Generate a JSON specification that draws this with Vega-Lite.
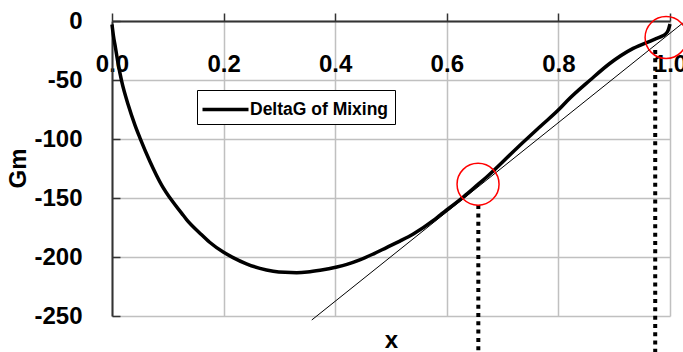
{
  "$schema": "https://vega.github.io/schema/vega-lite/v6.json",
  "width": 558,
  "height": 295,
  "autosize": {"type": "none"},
  "padding": {"left": 112, "top": 21, "right": 13, "bottom": 36},
  "background": "white",
  "config": {
    "view": {"stroke": null},
    "font": "Liberation Sans"
  },
  "layer": [
    {
      "data": {"values": [
        {"x": 0.000, "g": -3, "series": "DeltaG of Mixing"},
        {"x": 0.0024, "g": -12, "series": "DeltaG of Mixing"},
        {"x": 0.006, "g": -22, "series": "DeltaG of Mixing"},
        {"x": 0.0113, "g": -37, "series": "DeltaG of Mixing"},
        {"x": 0.0173, "g": -51, "series": "DeltaG of Mixing"},
        {"x": 0.029, "g": -71, "series": "DeltaG of Mixing"},
        {"x": 0.041, "g": -88, "series": "DeltaG of Mixing"},
        {"x": 0.050, "g": -99, "series": "DeltaG of Mixing"},
        {"x": 0.068, "g": -119, "series": "DeltaG of Mixing"},
        {"x": 0.089, "g": -139, "series": "DeltaG of Mixing"},
        {"x": 0.107, "g": -152, "series": "DeltaG of Mixing"},
        {"x": 0.125, "g": -163, "series": "DeltaG of Mixing"},
        {"x": 0.134, "g": -168.5, "series": "DeltaG of Mixing"},
        {"x": 0.158, "g": -180, "series": "DeltaG of Mixing"},
        {"x": 0.175, "g": -187.5, "series": "DeltaG of Mixing"},
        {"x": 0.2, "g": -196, "series": "DeltaG of Mixing"},
        {"x": 0.217, "g": -200.5, "series": "DeltaG of Mixing"},
        {"x": 0.241, "g": -205.8, "series": "DeltaG of Mixing"},
        {"x": 0.265, "g": -209.6, "series": "DeltaG of Mixing"},
        {"x": 0.289, "g": -212, "series": "DeltaG of Mixing"},
        {"x": 0.310, "g": -213, "series": "DeltaG of Mixing"},
        {"x": 0.331, "g": -213.3, "series": "DeltaG of Mixing"},
        {"x": 0.350, "g": -212.8, "series": "DeltaG of Mixing"},
        {"x": 0.373, "g": -211.3, "series": "DeltaG of Mixing"},
        {"x": 0.403, "g": -208.5, "series": "DeltaG of Mixing"},
        {"x": 0.421, "g": -206.3, "series": "DeltaG of Mixing"},
        {"x": 0.444, "g": -202.5, "series": "DeltaG of Mixing"},
        {"x": 0.468, "g": -197.5, "series": "DeltaG of Mixing"},
        {"x": 0.492, "g": -192, "series": "DeltaG of Mixing"},
        {"x": 0.516, "g": -186.5, "series": "DeltaG of Mixing"},
        {"x": 0.540, "g": -180.5, "series": "DeltaG of Mixing"},
        {"x": 0.576, "g": -169, "series": "DeltaG of Mixing"},
        {"x": 0.588, "g": -164.5, "series": "DeltaG of Mixing"},
        {"x": 0.630, "g": -149, "series": "DeltaG of Mixing"},
        {"x": 0.656, "g": -138.5, "series": "DeltaG of Mixing"},
        {"x": 0.672, "g": -132, "series": "DeltaG of Mixing"},
        {"x": 0.725, "g": -108, "series": "DeltaG of Mixing"},
        {"x": 0.767, "g": -89.6, "series": "DeltaG of Mixing"},
        {"x": 0.803, "g": -74, "series": "DeltaG of Mixing"},
        {"x": 0.815, "g": -68, "series": "DeltaG of Mixing"},
        {"x": 0.857, "g": -50, "series": "DeltaG of Mixing"},
        {"x": 0.892, "g": -36, "series": "DeltaG of Mixing"},
        {"x": 0.934, "g": -23.2, "series": "DeltaG of Mixing"},
        {"x": 0.970, "g": -16, "series": "DeltaG of Mixing"},
        {"x": 0.985, "g": -13, "series": "DeltaG of Mixing"},
        {"x": 0.991, "g": -11.5, "series": "DeltaG of Mixing"},
        {"x": 0.997, "g": -7.5, "series": "DeltaG of Mixing"},
        {"x": 1.0, "g": -2.5, "series": "DeltaG of Mixing"}
      ]},
      "mark": {"type": "line", "strokeWidth": 3.5, "interpolate": "monotone"},
      "encoding": {
        "x": {
          "field": "x", "type": "quantitative",
          "scale": {"domain": [0, 1], "nice": false, "zero": false},
          "axis": {
            "orient": "bottom", "offset": -295,
            "values": [0, 0.2, 0.4, 0.6, 0.8, 1.0], "format": ".1f",
            "labelFont": "Liberation Sans", "labelFontSize": 24, "labelFontWeight": "bold", "labelColor": "black",
            "labelBaseline": "middle", "labelPadding": 51, "labelFlush": false, "labelOverlap": false, "labelBound": false,
            "ticks": true, "tickSize": -8, "tickColor": "#333333", "tickWidth": 1.5,
            "domainColor": "#333333", "domainWidth": 2,
            "grid": true, "gridColor": "#c0c0c0", "gridWidth": 1.5,
            "title": "x", "titleFont": "Liberation Sans", "titleFontSize": 24, "titleFontWeight": "bold", "titleColor": "black",
            "titleBaseline": "alphabetic", "titleY": 326, "titleX": 279, "titleAlign": "center"
          }
        },
        "y": {
          "field": "g", "type": "quantitative",
          "scale": {"domain": [-250, 0], "nice": false, "zero": false},
          "axis": {
            "values": [-250, -200, -150, -100, -50, 0],
            "labelExpr": "datum.value < 0 ? '-' + abs(datum.value) : '' + datum.value",
            "labelFont": "Liberation Sans", "labelFontSize": 24, "labelFontWeight": "bold", "labelColor": "black",
            "labelPadding": 38, "labelFlush": false, "labelOverlap": false, "labelBound": false,
            "ticks": true, "tickSize": -8, "tickColor": "#333333", "tickWidth": 1.5,
            "domainColor": "#333333", "domainWidth": 2,
            "grid": true, "gridColor": "#c0c0c0", "gridWidth": 1.5,
            "title": "Gm", "titleFont": "Liberation Sans", "titleFontSize": 24, "titleFontWeight": "bold", "titleColor": "black",
            "titleAngle": -90, "titleBaseline": "middle", "titleAlign": "center", "titleX": -94, "titleY": 147
          }
        },
        "color": {
          "field": "series", "type": "nominal",
          "scale": {"range": ["black"]},
          "legend": {
            "orient": "none", "legendX": 85, "legendY": 69, "title": null,
            "strokeColor": "black", "fillColor": "white", "padding": 6,
            "labelFont": "Liberation Sans", "labelFontSize": 17.5, "labelFontWeight": "bold", "labelColor": "black",
            "labelOffset": 11, "symbolType": "M-2,0H2", "symbolSize": 529, "symbolOffset": 9,
            "symbolStrokeWidth": 3.5, "symbolStrokeColor": "black"
          }
        }
      }
    },
    {
      "data": {"values": [
        {"x": 0.358, "g": -253.4},
        {"x": 1.023, "g": -1.7}
      ]},
      "mark": {"type": "line", "color": "black", "strokeWidth": 1},
      "encoding": {
        "x": {"field": "x", "type": "quantitative"},
        "y": {"field": "g", "type": "quantitative"}
      }
    },
    {
      "data": {"values": [
        {"x": 0.6565, "top": -156, "bottom": -285},
        {"x": 0.9735, "top": -24.6, "bottom": -285}
      ]},
      "mark": {"type": "rule", "color": "black", "strokeWidth": 4, "strokeDash": [4, 4.3]},
      "encoding": {
        "x": {"field": "x", "type": "quantitative"},
        "y": {"field": "top", "type": "quantitative"},
        "y2": {"field": "bottom"}
      }
    },
    {
      "data": {"values": [
        {"x": 0.656, "g": -138.3},
        {"x": 0.993, "g": -14}
      ]},
      "mark": {"type": "point", "shape": "circle", "filled": false, "size": 1764, "stroke": "red", "strokeWidth": 1.5, "opacity": 1},
      "encoding": {
        "x": {"field": "x", "type": "quantitative"},
        "y": {"field": "g", "type": "quantitative"}
      }
    }
  ]
}
